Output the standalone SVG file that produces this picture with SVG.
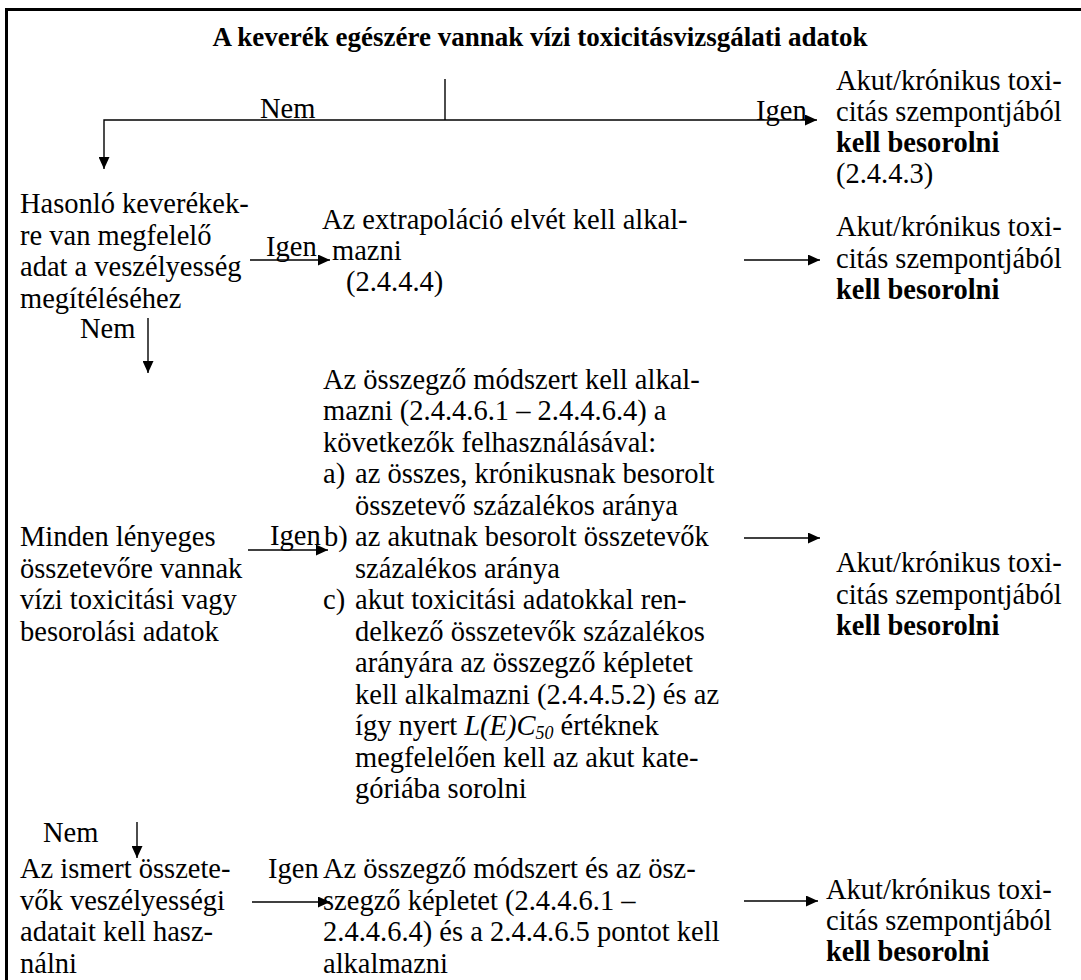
<svg xmlns="http://www.w3.org/2000/svg" width="1081" height="980" viewBox="0 0 1081 980">
<style>
text { font-family: "Liberation Serif", "Times New Roman", serif; font-size: 28.5px; fill: #000; }
.t { font-weight: bold; font-size: 27px; }
.b { font-weight: bold; }
.i { font-style: italic; }
.ln { stroke: #000; stroke-width: 1.4; fill: none; }
.frame { stroke: #000; stroke-width: 3; fill: none; }
</style>
<defs>
<marker id="ah" markerWidth="12" markerHeight="11" refX="12" refY="5.5" orient="auto" markerUnits="userSpaceOnUse">
<path d="M0,0 L12,5.5 L0,11 z" fill="#000"/>
</marker>
</defs>
<rect width="1081" height="980" fill="#fff"/>
<path class="frame" d="M6.5,980 V9.5 H1081"/>

<g id="title">
<text class="t" x="540" y="46" text-anchor="middle">A keverék egészére vannak vízi toxicitásvizsgálati adatok</text>
</g>

<g id="connectors">
<path class="ln" d="M445,79 V120"/>
<path class="ln" d="M445,120 H817" marker-end="url(#ah)"/>
<path class="ln" d="M445,120 H104 V169" marker-end="url(#ah)"/>
<path class="ln" d="M250,260 H330" marker-end="url(#ah)"/>
<path class="ln" d="M744,260 H820" marker-end="url(#ah)"/>
<path class="ln" d="M148,318 V373" marker-end="url(#ah)"/>
<path class="ln" d="M248,550 H328" marker-end="url(#ah)"/>
<path class="ln" d="M744,538 H820" marker-end="url(#ah)"/>
<path class="ln" d="M137,822 V858" marker-end="url(#ah)"/>
<path class="ln" d="M252,902 H330" marker-end="url(#ah)"/>
<path class="ln" d="M744,901 H818" marker-end="url(#ah)"/>
</g>

<g id="labels">
<text x="260" y="118">Nem</text>
<text x="756" y="120">Igen</text>
<text x="266" y="256">Igen</text>
<text x="80" y="338">Nem</text>
<text x="270" y="545">Igen</text>
<text x="43" y="842">Nem</text>
<text x="268" y="878">Igen</text>
</g>

<g id="result1">
<text x="836" y="90">Akut/krónikus toxi-</text>
<text x="836" y="121">citás szempontjából</text>
<text class="b" x="836" y="152">kell besorolni</text>
<text x="836" y="183">(2.4.4.3)</text>
</g>

<g id="q1">
<text x="20" y="213">Hasonló keverékek-</text>
<text x="20" y="244.5">re van megfelelő</text>
<text x="20" y="276">adat a veszélyesség</text>
<text x="20" y="307.5">megítéléséhez</text>
</g>

<g id="a1">
<text x="322" y="229">Az extrapoláció elvét kell alkal-</text>
<text x="332" y="260">mazni</text>
<text x="346" y="291">(2.4.4.4)</text>
</g>

<g id="result2">
<text x="836" y="236">Akut/krónikus toxi-</text>
<text x="836" y="267.5">citás szempontjából</text>
<text class="b" x="836" y="299">kell besorolni</text>
</g>

<g id="q2">
<text x="20" y="546">Minden lényeges</text>
<text x="20" y="577.5">összetevőre vannak</text>
<text x="20" y="609">vízi toxicitási vagy</text>
<text x="20" y="640.5">besorolási adatok</text>
</g>

<g id="a2">
<text x="323" y="388.5">Az összegző módszert kell alkal-</text>
<text x="323" y="420">mazni (2.4.4.6.1 – 2.4.4.6.4) a</text>
<text x="323" y="451.5">következők felhasználásával:</text>
<text x="323" y="483">a)</text>
<text x="355" y="483">az összes, krónikusnak besorolt</text>
<text x="355" y="514.5">összetevő százalékos aránya</text>
<text x="324" y="546">b)</text>
<text x="355" y="546">az akutnak besorolt összetevők</text>
<text x="355" y="577.5">százalékos aránya</text>
<text x="323" y="609">c)</text>
<text x="355" y="609">akut toxicitási adatokkal ren-</text>
<text x="355" y="640.5">delkező összetevők százalékos</text>
<text x="355" y="672">arányára az összegző képletet</text>
<text x="355" y="703.5">kell alkalmazni (2.4.4.5.2) és az</text>
<text x="355" y="735">így nyert <tspan class="i">L(E)C</tspan><tspan class="i" font-size="18" dy="4">50</tspan><tspan dy="-4"> értéknek</tspan></text>
<text x="355" y="766.5">megfelelően kell az akut kate-</text>
<text x="355" y="798">góriába sorolni</text>
</g>

<g id="result3">
<text x="836" y="572">Akut/krónikus toxi-</text>
<text x="836" y="603.5">citás szempontjából</text>
<text class="b" x="836" y="635">kell besorolni</text>
</g>

<g id="q3">
<text x="20" y="878">Az ismert összete-</text>
<text x="20" y="909.5">vők veszélyességi</text>
<text x="20" y="941">adatait kell hasz-</text>
<text x="20" y="972.5">nálni</text>
</g>

<g id="a3">
<text x="323" y="878">Az összegző módszert és az ösz-</text>
<text x="323" y="909.5">szegző képletet (2.4.4.6.1 –</text>
<text x="323" y="941">2.4.4.6.4) és a 2.4.4.6.5 pontot kell</text>
<text x="323" y="972.5">alkalmazni</text>
</g>

<g id="result4">
<text x="826" y="899">Akut/krónikus toxi-</text>
<text x="826" y="930">citás szempontjából</text>
<text class="b" x="826" y="961">kell besorolni</text>
</g>
</svg>
